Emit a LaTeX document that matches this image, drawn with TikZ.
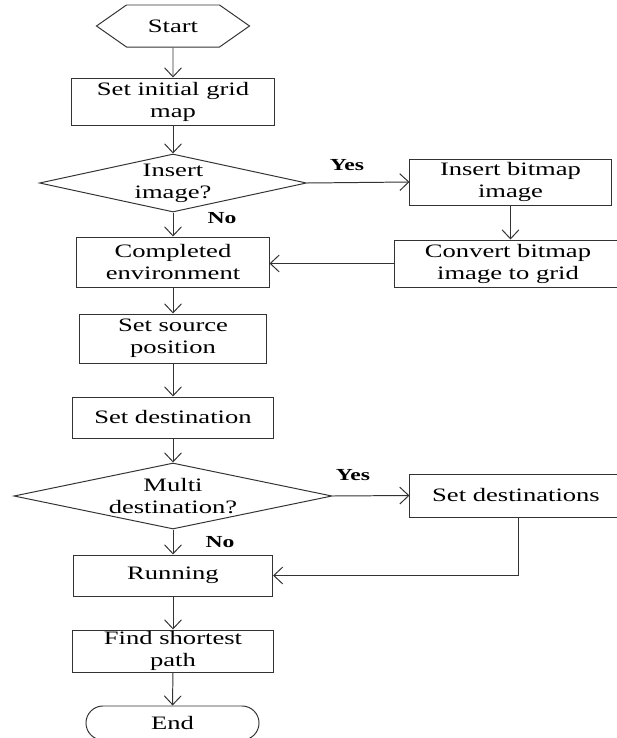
\documentclass[tikz,border=0pt]{standalone}
\usepackage{fontspec}
\setmainfont{Liberation Serif}[FakeStretch=1.4]
\usetikzlibrary{shapes.geometric, shapes.symbols, shapes.misc, arrows.meta, positioning}

\begin{document}
\begin{tikzpicture}[x=0.025cm, y=-0.025cm,
    every node/.style={font=\fontsize{13.5}{15.6}\selectfont, text=black},
    box/.style={rectangle, draw=black!80, line width=0.7pt, align=center, inner sep=0pt},
    decision/.style={diamond, draw=black!80, line width=0.7pt, align=center, inner sep=0pt},
    lbl/.style={font=\fontsize{12}{14}\selectfont\bfseries},
    flow/.style={draw=black!80, line width=0.7pt, -{Straight Barb[length=6.4pt, width=12pt]}}]

    \clip (0,0) rectangle (617,738);

    % main column
    \node[signal, signal to=east and west, signal pointer angle=70, draw=black!80, line width=0.7pt,
          inner sep=0pt, minimum width=3.825cm, minimum height=1.05cm] (start) at (173,26) {Start};
    \node[box, minimum width=5.05cm, minimum height=1.175cm] (init) at (173,101.5) {Set initial grid\\map};
    \node[decision, aspect=4.6, minimum width=6.675cm, minimum height=1.45cm] (img) at (173,183) {Insert\\image?};
    \node[box, minimum width=4.8cm, minimum height=1.25cm] (comp) at (173,262) {Completed\\environment};
    \node[box, minimum width=4.65cm, minimum height=1.225cm] (src) at (173,338.5) {Set source\\position};
    \node[box, minimum width=5cm, minimum height=1.025cm] (dst) at (173,417.5) {Set destination};
    \node[decision, aspect=4.8, minimum width=7.95cm, minimum height=1.65cm] (multi) at (173,496) {Multi\\destination?};
    \node[box, minimum width=4.975cm, minimum height=1.025cm] (run) at (173,575.5) {Running};
    \node[box, minimum width=5cm, minimum height=1.05cm] (path) at (173,651) {Find shortest\\path};
    \node[rounded rectangle, draw=black!80, line width=0.7pt, inner sep=0pt,
          minimum width=4.325cm, minimum height=0.85cm] (end) at (172.5,723) {End};

    % side branches
    \node[box, minimum width=5.025cm, minimum height=1.15cm] (bmp) at (510.5,182) {Insert bitmap\\image};
    \node[box, minimum width=5.65cm, minimum height=1.175cm] (conv) at (508,263.5) {Convert bitmap\\image to grid};
    \node[box, minimum width=5.3cm, minimum height=1.075cm] (dsts) at (516,495.5) {Set destinations};

    \node[lbl] (yes1) at (347,165) {Yes};
    \node[lbl] (no1) at (222,218) {No};
    \node[lbl] (yes2) at (353,475) {Yes};
    \node[lbl] (no2) at (220,542) {No};

    \draw[flow] (start) -- (init);
    \draw[flow] (init) -- (img);
    \draw[flow] (img) -- (comp);
    \draw[flow] (img.east) -- (bmp.west);
    \draw[flow] (bmp.south) -- (bmp.south |- conv.north);
    \draw[flow] (conv.west) -- (conv.west -| comp.east);
    \draw[flow] (comp) -- (src);
    \draw[flow] (src) -- (dst);
    \draw[flow] (dst) -- (multi);
    \draw[flow] (multi.east) -- (dsts.west);
    \draw[flow] (multi) -- (run);
    \draw[flow] ([xshift=2pt]dsts.south) |- (run.east);
    \draw[flow] (run) -- (path);
    \draw[flow] (path) -- (end);
\end{tikzpicture}
\end{document}
